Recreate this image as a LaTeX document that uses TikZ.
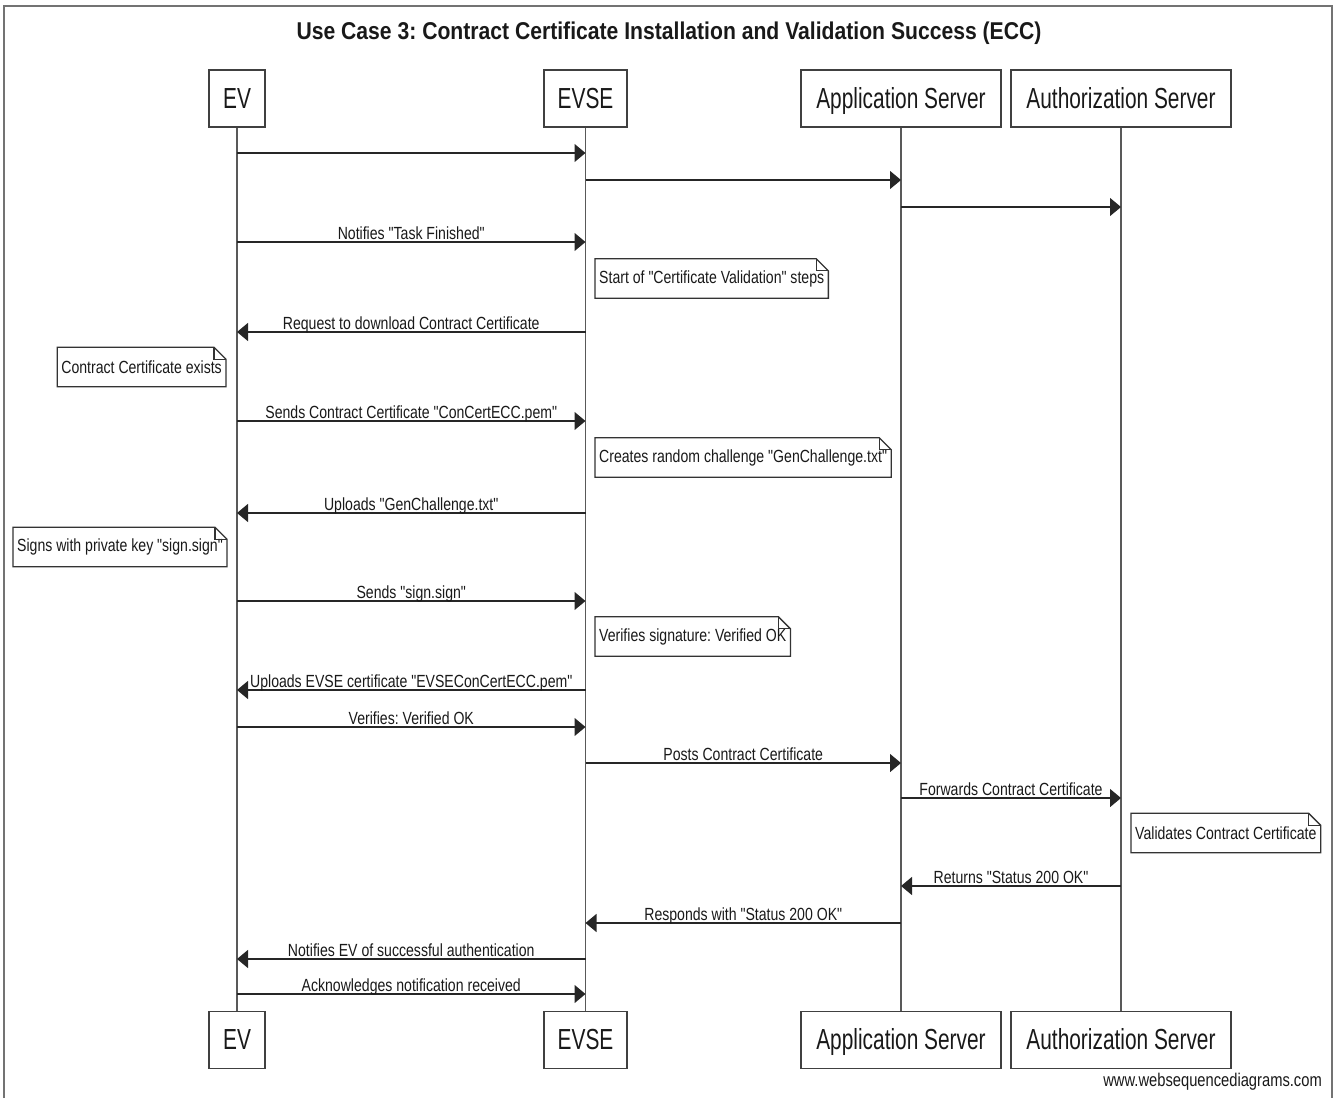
\documentclass[tikz,border=0pt]{standalone}
\usepackage{fontspec}
\setmainfont{Liberation Sans}
\newfontfamily\lblfont[FakeStretch=0.8]{Liberation Sans}
\newfontfamily\partfont[FakeStretch=0.72]{Liberation Sans}
\newfontfamily\ttlfont[FakeStretch=0.87]{Liberation Sans}
\usetikzlibrary{arrows.meta,calc}
\frenchspacing
\tikzset{
  part/.style={draw=black!75, line width=1.4pt, minimum height=57pt, inner sep=0pt,
    text height=21pt, text depth=2pt,
    font=\partfont\fontsize{29}{32}\selectfont, text=black!90},
  life/.style={draw=black!65, line width=1.4pt},
  msg/.style={draw=black!85, line width=1.3pt, -{Triangle[length=11pt,width=18pt]}},
  lbl/.style={font=\lblfont\fontsize{17.6}{20}\selectfont, anchor=base, inner sep=0pt, text=black!90},
  notebox/.style={font=\lblfont\fontsize{17.6}{20}\selectfont, minimum height=39pt,
    inner xsep=4pt, inner ysep=0pt, text=black!90},
  noteline/.style={draw=black!80, line width=1.3pt},
  frame/.style={draw=black!55, line width=1.6pt}
}
\newcommand\drawnote[1]{%
  \draw[noteline] (#1.south west) -- (#1.north west) -- ($(#1.north east)+(-12,0)$)
    -- ($(#1.north east)+(0,12)$) -- (#1.south east) -- cycle;
  \draw[noteline] ($(#1.north east)+(-12,0)$) -- ($(#1.north east)+(-12,12)$) -- ($(#1.north east)+(0,12)$);
}
\begin{document}
\begin{tikzpicture}[x=1pt,y=-1pt]
\useasboundingbox (0,0) rectangle (1336,1098);
\draw[frame] (4,1098) -- (4,6) -- (1332,6) -- (1332,1098);

\node[font=\ttlfont\bfseries\fontsize{24.3}{28}\selectfont, text=black!90] (title) at (669,33)
  {Use Case 3: Contract Certificate Installation and Validation Success (ECC)};

% participants top
\node[part, minimum width=56pt]  (evT)   at (237,98.5)   {EV};
\node[part, minimum width=83pt]  (evseT) at (585.5,98.5) {EVSE};
\node[part, minimum width=200pt] (appT)  at (901,98.5)   {Application Server};
\node[part, minimum width=220pt] (authT) at (1121,98.5)  {Authorization Server};
% participants bottom
\node[part, minimum width=56pt]  (evB)   at (237,1040)   {EV};
\node[part, minimum width=83pt]  (evseB) at (585.5,1040) {EVSE};
\node[part, minimum width=200pt] (appB)  at (901,1040)   {Application Server};
\node[part, minimum width=220pt] (authB) at (1121,1040)  {Authorization Server};

% lifelines
\draw[life] (evT.south) -- (evB.north);
\draw[life] (evseT.south) -- (evseB.north);
\draw[life] (appT.south) -- (appB.north);
\draw[life] (authT.south) -- (authB.north);

% messages
\draw[msg] (evT |- 0,153) -- (evseT |- 0,153);
\draw[msg] (evseT |- 0,180) -- (appT |- 0,180);
\draw[msg] (appT |- 0,207) -- (authT |- 0,207);
\draw[msg] (evT |- 0,242) -- node[lbl, yshift=3pt] {Notifies "Task Finished"} (evseT |- 0,242);

\node[notebox, anchor=west] (n1) at (595,278.5) {Start of "Certificate Validation" steps};
\drawnote{n1}

\draw[msg] (evseT |- 0,332) -- node[lbl, yshift=3pt] {Request to download Contract Certificate} (evT |- 0,332);

\node[notebox, anchor=east] (n2) at (226,367) {Contract Certificate exists};
\drawnote{n2}

\draw[msg] (evT |- 0,421) -- node[lbl, yshift=3pt] {Sends Contract Certificate "ConCertECC.pem"} (evseT |- 0,421);

\node[notebox, anchor=west] (n3) at (595,457.5) {Creates random challenge "GenChallenge.txt"};
\drawnote{n3}

\draw[msg] (evseT |- 0,513) -- node[lbl, yshift=3pt] {Uploads "GenChallenge.txt"} (evT |- 0,513);

\node[notebox, anchor=east] (n4) at (227,547) {Signs with private key "sign.sign"};
\drawnote{n4}

\draw[msg] (evT |- 0,601) -- node[lbl, yshift=3pt] {Sends "sign.sign"} (evseT |- 0,601);

\node[notebox, anchor=west] (n5) at (595,636.5) {Verifies signature: Verified OK};
\drawnote{n5}

\draw[msg] (evseT |- 0,690) -- node[lbl, yshift=3pt] {Uploads EVSE certificate "EVSEConCertECC.pem"} (evT |- 0,690);
\draw[msg] (evT |- 0,727) -- node[lbl, yshift=3pt] {Verifies: Verified OK} (evseT |- 0,727);
\draw[msg] (evseT |- 0,763) -- node[lbl, yshift=3pt] {Posts Contract Certificate} (appT |- 0,763);
\draw[msg] (appT |- 0,798) -- node[lbl, yshift=3pt] {Forwards Contract Certificate} (authT |- 0,798);

\node[notebox, anchor=west] (n6) at (1131,833) {Validates Contract Certificate};
\drawnote{n6}

\draw[msg] (authT |- 0,886) -- node[lbl, yshift=3pt] {Returns "Status 200 OK"} (appT |- 0,886);
\draw[msg] (appT |- 0,923) -- node[lbl, yshift=3pt] {Responds with "Status 200 OK"} (evseT |- 0,923);
\draw[msg] (evseT |- 0,959) -- node[lbl, yshift=3pt] {Notifies EV of successful authentication} (evT |- 0,959);
\draw[msg] (evT |- 0,994) -- node[lbl, yshift=3pt] {Acknowledges notification received} (evseT |- 0,994);

\node[lbl, font=\lblfont\fontsize{18.4}{21}\selectfont, anchor=base east] (wm) at (1322,1086) {www.websequencediagrams.com};
\end{tikzpicture}
\end{document}
